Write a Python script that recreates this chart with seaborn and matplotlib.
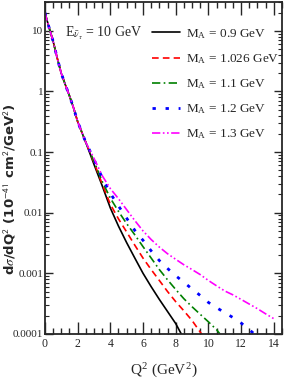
import numpy as np
import pandas as pd
import matplotlib
matplotlib.use("Agg")
import matplotlib.pyplot as plt
import matplotlib.ticker as mticker
import seaborn as sns

# Q^2 grid (GeV^2) shared at low Q^2, then per-curve tails
q2_common = [0.0, 0.25, 0.5, 0.75, 1.0, 1.25, 1.5, 1.75, 2.0, 2.5]
xs_common = [20.0, 11.5, 6.8, 3.6, 2.0, 1.29, 0.85, 0.54, 0.32, 0.145]

q2_09 = [3.0, 3.5, 4.0, 4.5, 5.0, 5.5, 6.0, 6.5, 7.0, 7.5, 8.0, 8.4]
xs_09 = [0.063, 0.028, 0.012, 0.006, 0.0032, 0.00178, 0.001, 0.0006,
         0.00037, 0.000234, 0.000148, 0.000093]

q2_1026 = [3.0, 3.5, 4.0, 4.5, 5.0, 5.5, 6.0, 6.5, 7.0, 7.5, 8.0, 8.5, 9.0, 9.6]
xs_1026 = [0.068, 0.030, 0.0138, 0.0079, 0.0048, 0.0029, 0.00178, 0.00115,
           0.00076, 0.0005, 0.00034, 0.00024, 0.000166, 0.000098]

q2_11 = [3.0, 3.5, 4.0, 4.5, 5.0, 5.5, 6.0, 6.5, 7.0, 7.5, 8.0, 8.5, 9.0,
         9.5, 10.0, 10.5, 10.7]
xs_11 = [0.071, 0.033, 0.0174, 0.0105, 0.0066, 0.0043, 0.00275, 0.00178,
         0.00115, 0.00078, 0.00054, 0.00038, 0.00028, 0.00021, 0.000158,
         0.000117, 0.0001]

q2_12 = [3.0, 3.5, 4.0, 4.5, 5.0, 5.5, 6.0, 6.5, 7.0, 7.5, 8.0, 8.5, 9.0,
         9.5, 10.0, 10.5, 11.0, 11.5, 12.0, 12.5, 12.8]
xs_12 = [0.076, 0.038, 0.0209, 0.0129, 0.0081, 0.0051, 0.0035, 0.00234,
         0.00162, 0.0012, 0.00091, 0.00071, 0.00055, 0.00043, 0.00033,
         0.00027, 0.000224, 0.000186, 0.000151, 0.000117, 0.0001]

q2_13 = [3.0, 3.5, 4.0, 4.5, 5.0, 5.5, 6.0, 6.5, 7.0, 7.5, 8.0, 8.5, 9.0,
         9.5, 10.0, 10.5, 11.0, 11.5, 12.0, 12.5, 13.0, 13.5, 14.0]
xs_13 = [0.079, 0.041, 0.025, 0.017, 0.0112, 0.0074, 0.005, 0.0036, 0.0027,
         0.0021, 0.0017, 0.00138, 0.00115, 0.00095, 0.00076, 0.00062, 0.00051,
         0.00044, 0.00037, 0.00031, 0.00026, 0.000214, 0.000178]

labels = ["0.9", "1.026", "1.1", "1.2", "1.3"]
colors = ["black", "#ff0000", "#008000", "#0000ff", "#ff00ff"]
styles = ["-", (0, (4, 2.5)), (0, (5, 2, 1, 2)), (0, (1.2, 3.5)),
          (0, (5, 1.5, 1, 1.5, 1, 1.5))]

sns.set_style("ticks")
plt.rcParams["font.family"] = ["Liberation Serif", "DejaVu Serif"]
plt.rcParams["mathtext.fontset"] = "stix"

fig = plt.figure(figsize=(2.84, 3.82), dpi=100)
ax = fig.add_axes([0.158, 0.126, 0.835, 0.869])

tails = [(q2_09, xs_09), (q2_1026, xs_1026), (q2_11, xs_11),
         (q2_12, xs_12), (q2_13, xs_13)]
for (q2, xs), lab, col, ls in zip(tails, labels, colors, styles):
    df = pd.DataFrame({"Q2": q2_common + q2, "xs": xs_common + xs})
    lw = 2.0 if lab == "1.2" else 1.2
    sns.lineplot(data=df, x="Q2", y="xs", ax=ax, color=col, linestyle=ls,
                 linewidth=lw, label=r"M$_\mathregular{A}$ = " + lab + " GeV",
                 sort=False)

ax.set_yscale("log")
ax.set_xlim(0, 14.5)
ax.set_ylim(1e-4, 30)

ax.xaxis.set_major_locator(mticker.MultipleLocator(2))
ax.xaxis.set_minor_locator(mticker.MultipleLocator(0.5))
ax.yaxis.set_major_locator(mticker.FixedLocator([1e-4, 1e-3, 1e-2, 1e-1, 1, 10]))
ax.yaxis.set_major_formatter(mticker.FixedFormatter(["0.0001", "0.001", "0.01", "0.1", "1", "10"]))
ax.yaxis.set_minor_locator(mticker.LogLocator(base=10, subs=np.arange(2, 10)))
ax.yaxis.set_minor_formatter(mticker.NullFormatter())

ax.tick_params(axis="x", which="major", direction="in", length=9, width=1,
               top=True, labelsize=8.5, pad=3)
ax.tick_params(axis="x", which="minor", direction="in", length=4.5, width=1, top=True)
ax.tick_params(axis="y", which="major", direction="in", length=6, width=1,
               right=True, labelsize=8, pad=1)
ax.tick_params(axis="y", which="minor", direction="in", length=3, width=0.8, right=True)
for s in ax.spines.values():
    s.set_linewidth(1.3)

ax.set_xlabel(r"Q$^\mathregular{2}$ (GeV$^\mathregular{2}$)", fontsize=11, labelpad=7)
ax.set_ylabel(r"d$\sigma$/dQ$^\mathsf{2}$ (10$^\mathsf{-41}$ cm$^\mathsf{2}$/GeV$^\mathsf{2}$)",
              fontsize=9.5, family="DejaVu Sans", fontweight="bold")
ax.yaxis.set_label_coords(-0.112, 0.435)

ax.text(0.085, 0.905, r"E$_{\bar{\nu}_\tau}$ = 10 GeV", transform=ax.transAxes,
        fontsize=10, ha="left", va="center")

ax.legend(loc="upper left", bbox_to_anchor=(0.43, 0.94), frameon=False,
          fontsize=9.5, handlelength=2.1, handletextpad=0.45, labelspacing=0.86,
          borderaxespad=0.0)

fig.savefig("out.png", dpi=100)
